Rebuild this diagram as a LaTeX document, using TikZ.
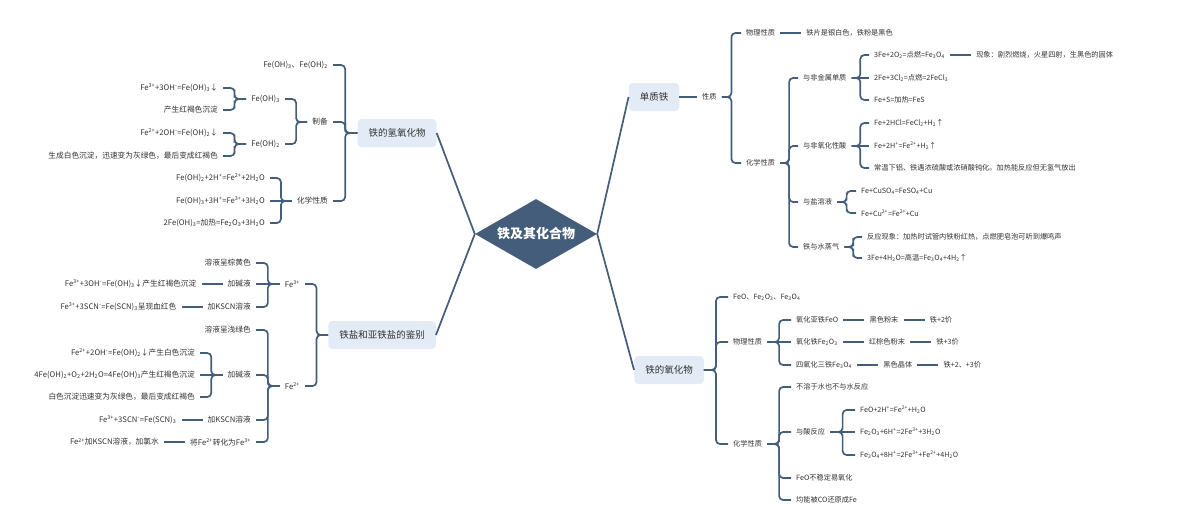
\documentclass[tikz,border=0pt]{standalone}
\usepackage{fontspec}
\setmainfont{Noto Sans CJK SC}
\usetikzlibrary{shapes.geometric,positioning,calc}
\definecolor{mapline}{RGB}{68,93,122}
\definecolor{mapfill}{RGB}{227,236,246}
\definecolor{maptext}{RGB}{51,51,51}
\newcommand{\chsub}[1]{\textsubscript{#1}}
\newcommand{\chsup}[1]{\textsuperscript{#1}}
\tikzset{
  leaf/.style={inner xsep=5pt, inner ysep=1pt, text=maptext},
  leafR/.style={leaf, anchor=west, font=\fontsize{7.2}{9}\selectfont},
  leafL/.style={leaf, anchor=east, font=\fontsize{7.7}{9}\selectfont},
  topic/.style={rectangle, rounded corners=4pt, fill=mapfill, text=maptext, font=\fontsize{9.5}{11}\selectfont, minimum height=28pt, inner xsep=11pt},
  root/.style={diamond, aspect=1.75, fill=mapline, text=white, font=\fontsize{13}{15}\selectfont\bfseries, minimum width=122pt, minimum height=70pt, inner sep=0pt},
  conn/.style={color=mapline, line width=1.7pt, rounded corners=4pt},
  forkto/.style={to path={-| ($(\tikztostart)!.5!(\tikztotarget)$) |- (\tikztotarget)}},
}
\begin{document}
\begin{tikzpicture}[x=1pt, y=-1pt]
\path[fill=white] (0,0) rectangle (1192,531);
% centre and topics
\node[root] (root) at (536,234) {铁及其化合物};
\node[topic] (qy) at (397,133) {铁的氢氧化物};
\node[topic] (jb) at (382,335) {铁盐和亚铁盐的鉴别};
\node[topic] (dz) at (654,97) {单质铁};
\node[topic] (yh) at (669,370) {铁的氧化物};

% 铁的氢氧化物
\node[leafL] (qy0) at (333,65) {Fe(OH)\chsub{3}、Fe(OH)\chsub{2}};
\node[leafL] (zb) at (333,122) {制备};
\node[leafL] (qx) at (333,201) {化学性质};
\node[leafL] (zb1) at (285,99) {Fe(OH)\chsub{3}};
\node[leafL] (zb2) at (285,144) {Fe(OH)\chsub{2}};
\node[leafL] (zb1a) at (223,88) {Fe\chsup{3+}+3OH\chsup{-}=Fe(OH)\chsub{3}↓};
\node[leafL] (zb1b) at (223,110) {产生红褐色沉淀};
\node[leafL] (zb2a) at (223,133) {Fe\chsup{2+}+2OH\chsup{-}=Fe(OH)\chsub{2}↓};
\node[leafL] (zb2b) at (223,156) {生成白色沉淀，迅速变为灰绿色，最后变成红褐色};
\node[leafL] (qx1) at (270,178) {Fe(OH)\chsub{2}+2H\chsup{+}=Fe\chsup{2+}+2H\chsub{2}O};
\node[leafL] (qx2) at (270,201) {Fe(OH)\chsub{3}+3H\chsup{+}=Fe\chsup{3+}+3H\chsub{2}O};
\node[leafL] (qx3) at (270,223) {2Fe(OH)\chsub{3}=加热=Fe\chsub{2}O\chsub{3}+3H\chsub{2}O};

% 铁盐和亚铁盐的鉴别
\node[leafL] (f3) at (305,284) {Fe\chsup{3+}};
\node[leafL] (f2) at (305,386) {Fe\chsup{2+}};
\node[leafL] (f3a) at (256,263) {溶液呈棕黄色};
\node[leafL] (f3b) at (256,284) {加碱液};
\node[leafL] (f3c) at (256,307) {加KSCN溶液};
\node[leafL, left=21pt of f3b] (f3b1) {Fe\chsup{3+}+3OH\chsup{-}=Fe(OH)\chsub{3}↓产生红褐色沉淀};
\node[leafL, left=21pt of f3c] (f3c1) {Fe\chsup{3+}+3SCN\chsup{-}=Fe(SCN)\chsub{3}呈现血红色};
\node[leafL] (f2a) at (256,330) {溶液呈浅绿色};
\node[leafL] (f2b) at (256,375) {加碱液};
\node[leafL] (f2c) at (256,420) {加KSCN溶液};
\node[leafL] (f2d) at (256,442) {将Fe\chsup{2+}转化为Fe\chsup{3+}};
\node[leafL] (f2b1) at (200,353) {Fe\chsup{2+}+2OH\chsup{-}=Fe(OH)\chsub{2}↓产生白色沉淀};
\node[leafL] (f2b2) at (200,375) {4Fe(OH)\chsub{2}+O\chsub{2}+2H\chsub{2}O=4Fe(OH)\chsub{3}产生红褐色沉淀};
\node[leafL] (f2b3) at (200,397) {白色沉淀迅速变为灰绿色，最后变成红褐色};
\node[leafL, left=21pt of f2c] (f2c1) {Fe\chsup{3+}+3SCN\chsup{-}=Fe(SCN)\chsub{3}};
\node[leafL, left=21pt of f2d] (f2d1) {Fe\chsup{2+}加KSCN溶液，加氯水};

% 单质铁
\node[leafR] (xz) at (697,97) {性质};
\node[leafR] (wl) at (741,33) {物理性质};
\node[leafR, right=21pt of wl] (wl1) {铁片是银白色，铁粉是黑色};
\node[leafR] (hx) at (741,163) {化学性质};
\node[leafR] (fj) at (798,78) {与非金属单质};
\node[leafR] (fj1) at (869,55) {3Fe+2O\chsub{2}=点燃=Fe\chsub{3}O\chsub{4}};
\node[leafR, right=21pt of fj1] (fj1a) {现象：剧烈燃烧，火星四射，生黑色的固体};
\node[leafR] (fj2) at (869,78) {2Fe+3Cl\chsub{2}=点燃=2FeCl\chsub{3}};
\node[leafR] (fj3) at (869,100) {Fe+S=加热=FeS};
\node[leafR] (fs) at (798,146) {与非氧化性酸};
\node[leafR] (fs1) at (869,123) {Fe+2HCl=FeCl\chsub{2}+H\chsub{2}↑};
\node[leafR] (fs2) at (869,146) {Fe+2H\chsup{+}=Fe\chsup{2+}+H\chsub{2}↑};
\node[leafR] (fs3) at (869,168) {常温下铝、铁遇浓硫酸或浓硝酸钝化。加热能反应但无氢气放出};
\node[leafR] (ys) at (798,202) {与盐溶液};
\node[leafR] (ys1) at (856,191) {Fe+CuSO\chsub{4}=FeSO\chsub{4}+Cu};
\node[leafR] (ys2) at (856,213) {Fe+Cu\chsup{2+}=Fe\chsup{2+}+Cu};
\node[leafR] (sz) at (798,247) {铁与水蒸气};
\node[leafR] (sz1) at (862,237) {反应现象：加热时试管内铁粉红热，点燃肥皂泡可听到爆鸣声};
\node[leafR] (sz2) at (862,258) {3Fe+4H\chsub{2}O=高温=Fe\chsub{3}O\chsub{4}+4H\chsub{2}↑};

% 铁的氧化物
\node[leafR] (yh0) at (728,297) {FeO、Fe\chsub{2}O\chsub{3}、Fe\chsub{3}O\chsub{4}};
\node[leafR] (yw) at (728,342) {物理性质};
\node[leafR] (yx) at (728,444) {化学性质};
\node[leafR] (yw1) at (791,320) {氧化亚铁FeO};
\node[leafR, right=21pt of yw1] (yw1a) {黑色粉末};
\node[leafR, right=21pt of yw1a] (yw1b) {铁+2价};
\node[leafR] (yw2) at (791,342) {氧化铁Fe\chsub{2}O\chsub{3}};
\node[leafR, right=21pt of yw2] (yw2a) {红棕色粉末};
\node[leafR, right=21pt of yw2a] (yw2b) {铁+3价};
\node[leafR] (yw3) at (791,365) {四氧化三铁Fe\chsub{3}O\chsub{4}};
\node[leafR, right=21pt of yw3] (yw3a) {黑色晶体};
\node[leafR, right=21pt of yw3a] (yw3b) {铁+2、+3价};
\node[leafR] (yx1) at (791,387) {不溶于水也不与水反应};
\node[leafR] (yx2) at (791,432) {与酸反应};
\node[leafR] (yx3) at (791,478) {FeO不稳定易氧化};
\node[leafR] (yx4) at (791,500) {均能被CO还原成Fe};
\node[leafR] (yx2a) at (855,410) {FeO+2H\chsup{+}=Fe\chsup{2+}+H\chsub{2}O};
\node[leafR] (yx2b) at (855,432) {Fe\chsub{2}O\chsub{3}+6H\chsup{+}=2Fe\chsup{3+}+3H\chsub{2}O};
\node[leafR] (yx2c) at (855,455) {Fe\chsub{3}O\chsub{4}+8H\chsup{+}=2Fe\chsup{3+}+Fe\chsup{2+}+4H\chsub{2}O};

% connectors
\path[conn]
    (root.west) edge (qy.east)
    (root.west) edge (jb.east)
    (root.east) edge (dz.west)
    (root.east) edge (yh.west)
    (qy.west) edge[forkto] (qy0.east)
    (qy.west) edge[forkto] (zb.east)
    (qy.west) edge[forkto] (qx.east)
    (zb.west) edge[forkto] (zb1.east)
    (zb.west) edge[forkto] (zb2.east)
    (zb1.west) edge[forkto] (zb1a.east)
    (zb1.west) edge[forkto] (zb1b.east)
    (zb2.west) edge[forkto] (zb2a.east)
    (zb2.west) edge[forkto] (zb2b.east)
    (qx.west) edge[forkto] (qx1.east)
    (qx.west) edge (qx2.east)
    (qx.west) edge[forkto] (qx3.east)
    (jb.west) edge[forkto] (f3.east)
    (jb.west) edge[forkto] (f2.east)
    (f3.west) edge[forkto] (f3a.east)
    (f3.west) edge (f3b.east)
    (f3.west) edge[forkto] (f3c.east)
    (f3b.west) edge (f3b1.east)
    (f3c.west) edge (f3c1.east)
    (f2.west) edge[forkto] (f2a.east)
    (f2.west) edge[forkto] (f2b.east)
    (f2.west) edge[forkto] (f2c.east)
    (f2.west) edge[forkto] (f2d.east)
    (f2b.west) edge[forkto] (f2b1.east)
    (f2b.west) edge (f2b2.east)
    (f2b.west) edge[forkto] (f2b3.east)
    (f2c.west) edge (f2c1.east)
    (f2d.west) edge (f2d1.east)
    (dz.east) edge (xz.west)
    (xz.east) edge[forkto] (wl.west)
    (xz.east) edge[forkto] (hx.west)
    (wl.east) edge (wl1.west)
    (hx.east) edge[forkto] (fj.west)
    (hx.east) edge[forkto] (fs.west)
    (hx.east) edge[forkto] (ys.west)
    (hx.east) edge[forkto] (sz.west)
    (fj.east) edge[forkto] (fj1.west)
    (fj.east) edge (fj2.west)
    (fj.east) edge[forkto] (fj3.west)
    (fj1.east) edge (fj1a.west)
    (fs.east) edge[forkto] (fs1.west)
    (fs.east) edge (fs2.west)
    (fs.east) edge[forkto] (fs3.west)
    (ys.east) edge[forkto] (ys1.west)
    (ys.east) edge[forkto] (ys2.west)
    (sz.east) edge[forkto] (sz1.west)
    (sz.east) edge[forkto] (sz2.west)
    (yh.east) edge[forkto] (yh0.west)
    (yh.east) edge[forkto] (yw.west)
    (yh.east) edge[forkto] (yx.west)
    (yw.east) edge[forkto] (yw1.west)
    (yw.east) edge (yw2.west)
    (yw.east) edge[forkto] (yw3.west)
    (yw1.east) edge (yw1a.west)
    (yw1a.east) edge (yw1b.west)
    (yw2.east) edge (yw2a.west)
    (yw2a.east) edge (yw2b.west)
    (yw3.east) edge (yw3a.west)
    (yw3a.east) edge (yw3b.west)
    (yx.east) edge[forkto] (yx1.west)
    (yx.east) edge[forkto] (yx2.west)
    (yx.east) edge[forkto] (yx3.west)
    (yx.east) edge[forkto] (yx4.west)
    (yx2.east) edge[forkto] (yx2a.west)
    (yx2.east) edge (yx2b.west)
    (yx2.east) edge[forkto] (yx2c.west)
         ;
\end{tikzpicture}
\end{document}
